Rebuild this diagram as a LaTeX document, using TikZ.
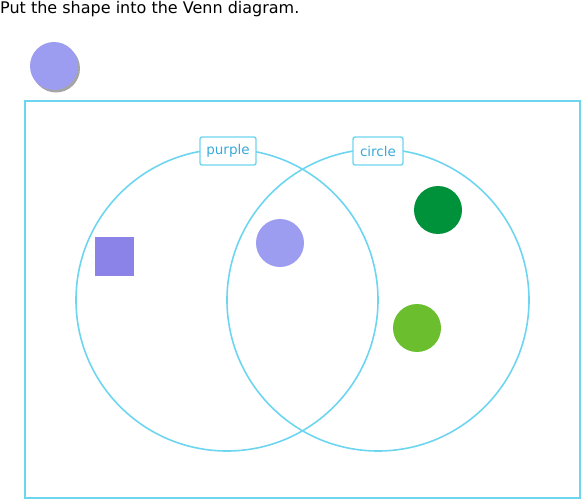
\documentclass[tikz,border=0pt]{standalone}
\usepackage{fontspec}
\setmainfont{DejaVu Sans}
\usetikzlibrary{shadows}
\definecolor{vline}{HTML}{6DD5F0}
\definecolor{vtext}{HTML}{3AAAD8}
\definecolor{purp}{HTML}{9C9CF0}
\definecolor{sq}{HTML}{8B83E8}
\definecolor{dgreen}{HTML}{00923A}
\definecolor{lgreen}{HTML}{6BBF2F}
\tikzset{
  vcircle/.style={draw=vline, line width=1.6pt},
  vlabel/.style={draw=vline, line width=1.4pt, fill=white, rounded corners=2pt, text=vtext, font=\fontsize{13.5}{15}\selectfont, inner sep=0pt, minimum height=28pt},
  dot/.style={circle, inner sep=0pt, minimum size=48pt},
}
\begin{document}
\begin{tikzpicture}[x=1pt,y=-1pt]
\useasboundingbox (0,0) rectangle (582,500);
\node[anchor=base west, inner sep=0pt, font=\fontsize{16}{18}\selectfont] (title) at (0,14) {Put the shape into the Venn diagram.};
\node[dot, fill=purp, drop shadow={shadow xshift=2pt, shadow yshift=-2.5pt, fill=black!70, opacity=0.5}] (shape) at (54,66) {};
\draw[draw=vline, line width=1.2pt] (25,101) rectangle (580,498);
\node[vcircle, circle, minimum size=302pt, inner sep=0pt] (purplec) at (227,300) {};
\node[vcircle, circle, minimum size=302pt, inner sep=0pt] (circlec) at (378,300) {};
\node[vlabel, minimum width=56pt] (lpurple) at (228,151) {purple};
\node[vlabel, minimum width=50pt] (lcircle) at (378,151) {circle};
\node[fill=sq, inner sep=0pt, minimum size=39pt] (square) at (114,256.5) {};
\node[dot, fill=purp] (mid) at (280,243) {};
\node[dot, fill=dgreen] (g1) at (438,210) {};
\node[dot, fill=lgreen] (g2) at (417,328) {};
\end{tikzpicture}
\end{document}
